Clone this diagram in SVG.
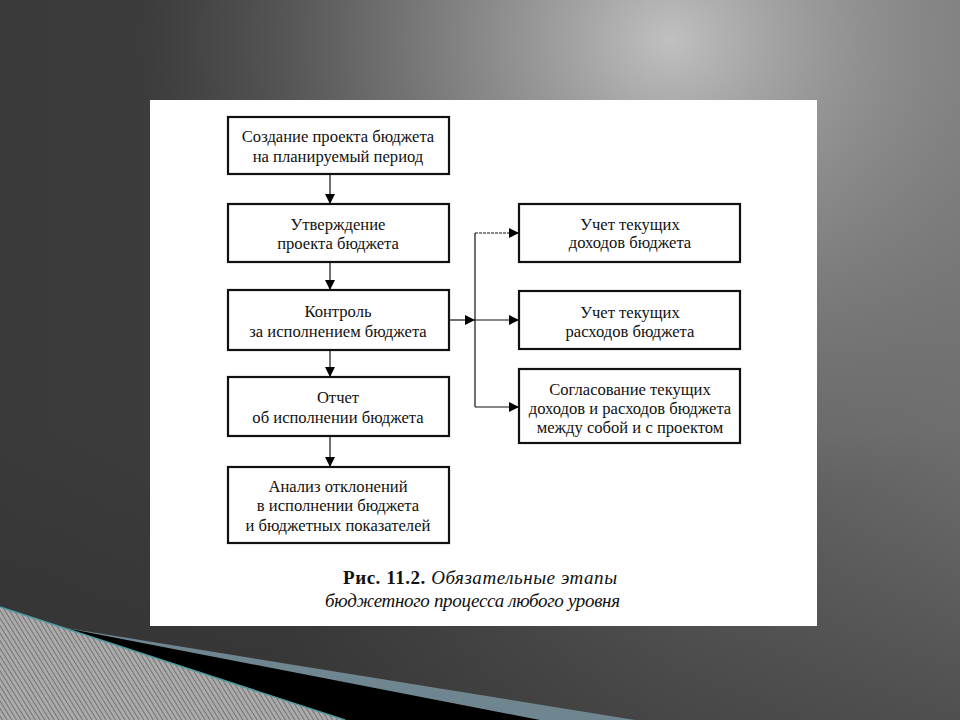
<svg xmlns="http://www.w3.org/2000/svg" width="960" height="720" viewBox="0 0 960 720">
<defs>
<linearGradient id="base" gradientUnits="userSpaceOnUse" x1="0" y1="0" x2="960" y2="0">
<stop offset="0" stop-color="#3a3a3a"/>
<stop offset="0.3" stop-color="#3e3e3e"/>
<stop offset="0.7" stop-color="#5e5e5e"/>
<stop offset="1" stop-color="#6e6e6e"/>
</linearGradient>
<radialGradient id="hl" gradientUnits="userSpaceOnUse" cx="670" cy="40" r="480" gradientTransform="translate(670 40) scale(1.1 1) translate(-670 -40)">
<stop offset="0" stop-color="#c0c0c0" stop-opacity="1"/>
<stop offset="0.4" stop-color="#a0a0a0" stop-opacity="0.65"/>
<stop offset="1" stop-color="#808080" stop-opacity="0"/>
</radialGradient>
<linearGradient id="shade" x1="0" y1="0" x2="0" y2="1">
<stop offset="0.6" stop-color="#2a2a2a" stop-opacity="0"/>
<stop offset="1" stop-color="#2a2a2a" stop-opacity="0.45"/>
</linearGradient>
<pattern id="hatch" width="4" height="4" patternUnits="userSpaceOnUse" patternTransform="rotate(-32)">
<rect width="4" height="4" fill="#ababab"/>
<rect width="1" height="4" fill="#747474"/>
</pattern>
<marker id="ah" viewBox="0 0 10 10" refX="10" refY="5" markerWidth="14" markerHeight="10" markerUnits="userSpaceOnUse" orient="auto">
<path d="M0,0 L10,5 L0,10 z" fill="#000"/>
</marker>
<style>
.box{fill:#fff;stroke:#111;stroke-width:2.2}
.t{font-family:'Liberation Serif','DejaVu Serif',serif;font-size:16.6px;fill:#111;text-anchor:middle}
.c{stroke:#111;stroke-width:1.2;fill:none}
.cap{font-family:'Liberation Serif','DejaVu Serif',serif;font-size:19px;fill:#111}
</style>
</defs>
<rect width="960" height="720" fill="url(#base)"/>
<rect width="960" height="720" fill="url(#hl)"/>
<rect width="960" height="720" fill="url(#shade)"/>
<!-- bottom-left decoration -->
<polygon points="60,627 635,720 0,720" fill="#6f8690"/>
<polygon points="60,627 540,720 0,720" fill="#000"/>
<polygon points="0,607 345,720 0,720" fill="url(#hatch)"/>
<line x1="0" y1="607" x2="345" y2="720" stroke="#4f9aa0" stroke-width="1.5"/>
<!-- panel -->
<rect x="150" y="100" width="667" height="526" fill="#fff"/>
<g id="connectors">
<line class="c" x1="330" y1="174" x2="330" y2="204" marker-end="url(#ah)"/>
<line class="c" x1="330" y1="262" x2="330" y2="290" marker-end="url(#ah)"/>
<line class="c" x1="330" y1="350" x2="330" y2="377" marker-end="url(#ah)"/>
<line class="c" x1="330" y1="436" x2="330" y2="467" marker-end="url(#ah)"/>
<line class="c" x1="449" y1="320" x2="475" y2="320" marker-end="url(#ah)"/>
<line class="c" x1="475" y1="233" x2="475" y2="407"/>
<line class="c" x1="475" y1="233" x2="519" y2="233" marker-end="url(#ah)" stroke-dasharray="3 1"/>
<line class="c" x1="475" y1="320" x2="519" y2="320" marker-end="url(#ah)"/>
<line class="c" x1="475" y1="407" x2="519" y2="407" marker-end="url(#ah)"/>
</g>
<g id="n1"><rect class="box" x="228" y="117" width="221" height="57"/>
<text class="t" x="338" y="142">Создание проекта бюджета</text>
<text class="t" x="338" y="162">на планируемый период</text></g>
<g id="n2"><rect class="box" x="228" y="204" width="221" height="58"/>
<text class="t" x="338" y="230">Утверждение</text>
<text class="t" x="338" y="249">проекта бюджета</text></g>
<g id="n3"><rect class="box" x="228" y="290" width="221" height="60"/>
<text class="t" x="338" y="317">Контроль</text>
<text class="t" x="338" y="337">за исполнением бюджета</text></g>
<g id="n4"><rect class="box" x="228" y="377" width="221" height="59"/>
<text class="t" x="338" y="403">Отчет</text>
<text class="t" x="338" y="423">об исполнении бюджета</text></g>
<g id="n5"><rect class="box" x="228" y="467" width="221" height="76"/>
<text class="t" x="338" y="492">Анализ отклонений</text>
<text class="t" x="338" y="511">в исполнении бюджета</text>
<text class="t" x="338" y="531">и бюджетных показателей</text></g>
<g id="r1"><rect class="box" x="519" y="204" width="221" height="58"/>
<text class="t" x="630" y="230">Учет текущих</text>
<text class="t" x="630" y="248">доходов бюджета</text></g>
<g id="r2"><rect class="box" x="519" y="291" width="221" height="58"/>
<text class="t" x="630" y="318">Учет текущих</text>
<text class="t" x="630" y="337">расходов бюджета</text></g>
<g id="r3"><rect class="box" x="519" y="369" width="221" height="74"/>
<text class="t" x="630" y="395">Согласование текущих</text>
<text class="t" x="630" y="414">доходов и расходов бюджета</text>
<text class="t" x="630" y="433">между собой и с проектом</text></g>
<g id="caption">
<text class="cap" x="343" y="584" textLength="274" lengthAdjust="spacing"><tspan font-weight="bold">Рис. 11.2.</tspan> <tspan font-style="italic">Обязательные этапы</tspan></text>
<text class="cap" x="325" y="607" font-style="italic" textLength="295" lengthAdjust="spacing">бюджетного процесса любого уровня</text>
</g>
</svg>
